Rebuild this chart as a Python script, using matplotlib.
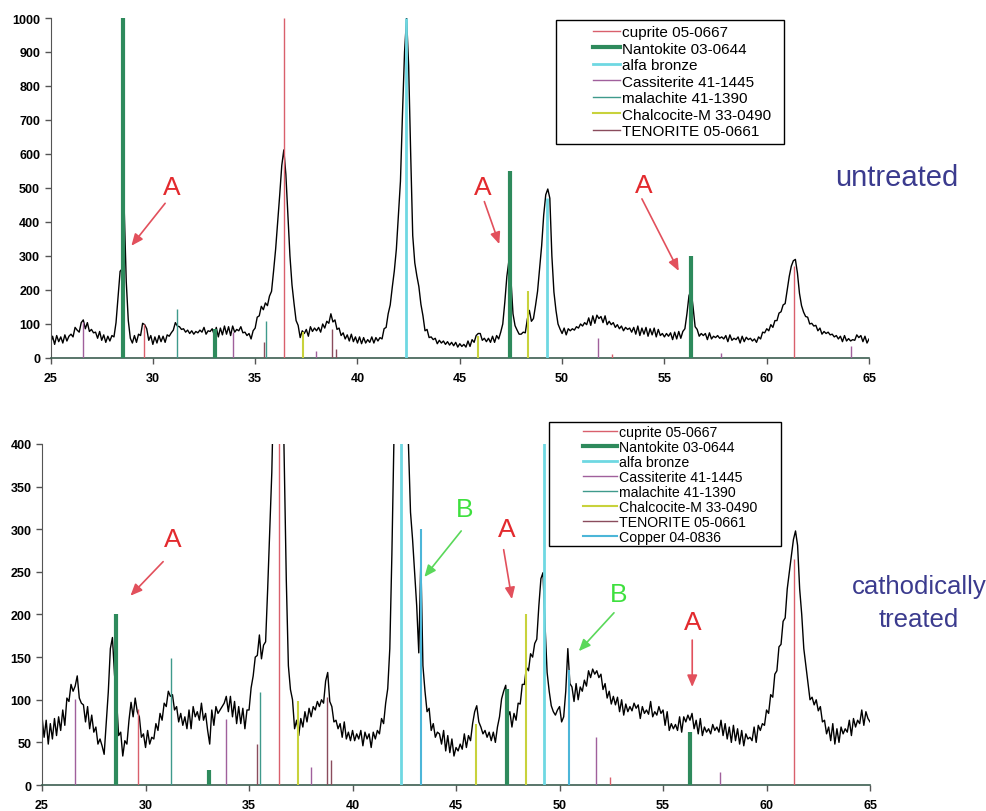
import numpy as np
import matplotlib.pyplot as plt
from matplotlib.lines import Line2D
from matplotlib.patches import Rectangle

plt.rcParams['font.family'] = ['Liberation Sans', 'DejaVu Sans']

# 2-theta grid, 0.1 deg steps from 25 to 65
two_theta = np.linspace(25, 65, 401)

untreated = [
    42, 64, 40, 66, 48, 62, 44, 68, 50, 64,
    70, 62, 90, 82, 76, 104, 112, 86, 104, 78,
    84, 74, 76, 58, 78, 52, 68, 46, 64, 50,
    66, 62, 104, 180, 255, 262, 438, 225, 110, 58,
    44, 66, 46, 70, 66, 102, 98, 86, 52, 66,
    40, 62, 44, 66, 48, 64, 46, 68, 64, 74,
    82, 104, 94, 92, 84, 86, 76, 82, 72, 80,
    70, 78, 74, 82, 76, 90, 70, 80, 78, 86,
    68, 90, 62, 88, 68, 94, 70, 92, 66, 94,
    76, 84, 80, 92, 74, 76, 66, 72, 56, 80,
    88, 120, 124, 152, 142, 162, 154, 182, 196, 256,
    320, 400, 480, 566, 612, 540, 420, 300, 215, 160,
    110, 96, 60, 80, 72, 84, 64, 92, 78, 88,
    80, 90, 76, 100, 88, 108, 102, 130, 106, 112,
    84, 88, 66, 74, 56, 68, 50, 70, 48, 62,
    44, 62, 42, 60, 44, 54, 46, 62, 44, 60,
    50, 60, 56, 86, 90, 130, 156, 208, 256, 320,
    420, 520, 720, 900, 1000, 860, 600, 360, 280, 242,
    210, 158, 124, 80, 84, 60, 62, 54, 58, 42,
    52, 44, 50, 40, 48, 38, 46, 36, 46, 32,
    42, 34, 40, 32, 50, 34, 54, 46, 66, 72,
    72, 52, 58, 48, 58, 46, 64, 46, 66, 56,
    76, 100, 164, 240, 286, 230, 130, 95, 82, 70,
    70, 76, 74, 114, 140, 108, 116, 154, 196, 264,
    330, 420, 480, 497, 470, 300, 194, 140, 100, 85,
    72, 88, 68, 86, 80, 86, 82, 92, 88, 100,
    94, 104, 98, 118, 96, 124, 102, 126, 116, 122,
    104, 124, 98, 108, 98, 104, 90, 98, 86, 94,
    80, 90, 84, 88, 76, 90, 70, 94, 66, 88,
    70, 90, 64, 86, 68, 88, 62, 84, 66, 72,
    62, 72, 64, 74, 54, 76, 56, 78, 58, 78,
    86, 130, 183, 200, 150, 92, 84, 64, 72, 66,
    72, 54, 74, 56, 64, 60, 66, 58, 62, 56,
    66, 48, 68, 52, 58, 54, 62, 44, 64, 48,
    61, 54, 58, 50, 56, 46, 62, 56, 76, 74,
    86, 80, 98, 90, 110, 110, 132, 136, 156, 160,
    200, 240, 270, 286, 290, 250, 190, 154, 135, 122,
    120, 100, 102, 94, 96, 80, 88, 70, 78, 72,
    76, 68, 70, 62, 66, 56, 64, 48, 66, 50,
    57, 50, 54, 52, 68, 60, 66, 48, 64, 44,
    56,
]

# measured counts, cathodically treated sample
treated = [
    80, 56, 76, 48, 72, 54, 78, 58, 80, 64,
    88, 70, 102, 98, 118, 110, 116, 128, 102, 96,
    94, 74, 92, 66, 82, 62, 68, 48, 54, 46,
    36, 72, 109, 160, 173, 130, 100, 58, 62, 34,
    52, 48, 76, 97, 80, 102, 86, 80, 56, 60,
    44, 64, 48, 56, 54, 72, 64, 84, 76, 96,
    92, 110, 104, 106, 88, 92, 74, 84, 70, 80,
    66, 88, 66, 92, 80, 86, 76, 96, 76, 84,
    64, 48, 88, 70, 92, 84, 88, 92, 96, 104,
    86, 104, 80, 98, 72, 92, 72, 90, 66, 88,
    88, 114, 128, 150, 152, 176, 148, 164, 168, 230,
    300, 367, 480, 620, 780, 700, 520, 380, 240, 140,
    112, 100, 66, 76, 58, 78, 68, 86, 74, 90,
    80, 92, 88, 98, 92, 100, 96, 122, 132, 98,
    92, 74, 76, 66, 72, 56, 74, 54, 62, 52,
    64, 52, 60, 54, 64, 46, 62, 54, 60, 44,
    62, 54, 64, 60, 78, 72, 96, 113, 160, 270,
    406, 600, 850, 1000, 980, 800, 560, 400, 320, 288,
    250, 210, 155, 265, 140, 110, 86, 90, 64, 72,
    56, 62, 60, 48, 64, 40, 58, 38, 54, 34,
    44, 40, 48, 42, 60, 44, 58, 52, 72, 86,
    93, 74, 68, 60, 64, 56, 62, 52, 62, 50,
    68, 80, 101, 110, 117, 80, 86, 68, 84, 76,
    96, 95, 118, 118, 138, 134, 154, 150, 166, 171,
    210, 242, 249, 187, 132, 110, 93, 86, 82, 88,
    92, 74, 80, 110, 160, 119, 115, 98, 119, 100,
    115, 110, 123, 116, 134, 126, 136, 130, 134, 126,
    130, 112, 119, 102, 110, 95, 104, 94, 103, 86,
    100, 82, 95, 86, 92, 87, 96, 90, 94, 78,
    92, 84, 88, 83, 98, 80, 86, 82, 92, 84,
    88, 70, 86, 64, 72, 66, 71, 64, 80, 62,
    80, 74, 82, 76, 84, 66, 76, 60, 78, 58,
    68, 62, 66, 60, 71, 64, 68, 62, 76, 58,
    72, 54, 68, 50, 70, 52, 66, 48, 64, 46,
    60, 54, 56, 52, 68, 50, 70, 64, 72, 70,
    88, 84, 106, 103, 130, 134, 162, 165, 192, 196,
    230, 250, 269, 288, 298, 281, 230, 200, 160, 140,
    119, 100, 103, 94, 100, 87, 92, 74, 76, 60,
    68, 52, 72, 48, 66, 50, 68, 60, 66, 62,
    76, 58, 78, 68, 76, 72, 88, 70, 86, 78,
    74,
]

phases = ['cuprite 05-0667', 'Nantokite 03-0644', 'alfa bronze',
          'Cassiterite 41-1445', 'malachite 41-1390', 'Chalcocite-M 33-0490',
          'TENORITE 05-0661', 'Copper 04-0836']
colors = ['#d9606c', '#2e8a5c', '#6fd8e2', '#a0609c', '#3f9a8c',
          '#c8d23c', '#8a4c5c', '#4cb6d8']
widths = [1.0, 3.0, 2.0, 1.0, 1.0, 1.5, 1.0, 1.5]

# reference stick patterns (position, height) per phase
top_pos = {
    'cuprite 05-0667': [29.55, 36.42, 52.45, 61.34],
    'Nantokite 03-0644': [28.53, 33.05, 47.43, 56.3],
    'alfa bronze': [42.35, 49.25],
    'Cassiterite 41-1445': [26.6, 33.9, 37.95, 51.75, 57.75, 64.1],
    'malachite 41-1390': [31.2, 35.55],
    'Chalcocite-M 33-0490': [37.35, 45.9, 48.35],
    'TENORITE 05-0661': [35.42, 38.75, 38.95],
}
top_hgt = {
    'cuprite 05-0667': [100, 1000, 12, 270],
    'Nantokite 03-0644': [1000, 85, 550, 300],
    'alfa bronze': [1000, 470],
    'Cassiterite 41-1445': [105, 75, 20, 58, 15, 35],
    'malachite 41-1390': [145, 110],
    'Chalcocite-M 33-0490': [75, 65, 197],
    'TENORITE 05-0661': [46, 85, 26],
}
bot_pos = {
    'cuprite 05-0667': [29.62, 36.46, 52.44, 61.33],
    'Nantokite 03-0644': [28.55, 33.07, 47.45, 56.3],
    'alfa bronze': [42.35, 49.25],
    'Cassiterite 41-1445': [26.6, 33.9, 37.98, 51.77, 57.75],
    'malachite 41-1390': [31.24, 35.55],
    'Chalcocite-M 33-0490': [37.38, 45.97, 48.38],
    'TENORITE 05-0661': [35.4, 38.75, 38.95],
    'Copper 04-0836': [43.3, 50.45],
}
bot_hgt = {
    'cuprite 05-0667': [89, 1000, 9, 265],
    'Nantokite 03-0644': [200, 18, 113, 62],
    'alfa bronze': [1000, 1000],
    'Cassiterite 41-1445': [101, 77, 21, 56, 15],
    'malachite 41-1390': [149, 109],
    'Chalcocite-M 33-0490': [98, 72, 200],
    'TENORITE 05-0661': [48, 103, 29],
    'Copper 04-0836': [300, 135],
}

# annotation letters: (text x, text y, arrow start x, y, arrow tip x, y)
top_marks = [('A', 30.9, 503, 30.6, 455, 28.95, 330),
             ('A', 46.1, 503, 46.2, 460, 46.93, 335),
             ('A', 54.0, 509, 53.9, 468, 55.7, 256)]
bot_marks = [('A', 31.3, 289, 30.85, 262, 29.27, 222),
             ('B', 45.4, 324, 45.25, 298, 43.47, 244),
             ('A', 47.44, 300, 47.3, 276, 47.7, 218),
             ('B', 52.87, 224, 52.63, 202, 50.93, 157),
             ('A', 56.45, 191, 56.41, 170, 56.41, 115)]
mark_colors = {'A': '#e32a2e', 'B': '#3ee03e'}
arrow_colors = {'A': '#e2505c', 'B': '#5ad85a'}

fig = plt.figure(figsize=(9.87, 8.12), dpi=100)
ax1 = fig.add_axes([0.0512, 0.5579, 0.8293, 0.4187])
ax2 = fig.add_axes([0.0426, 0.0320, 0.8389, 0.4200])


def draw_panel(ax, counts, pos, hgt, ymax, ystep, marks, n_phases):
    ax.plot(two_theta, counts, color='black', lw=1.0, zorder=2)
    order = [6, 3, 5, 4, 0, 7, 2, 1]
    for i in order:
        name = phases[i]
        if name in pos:
            ax.vlines(pos[name], 0, hgt[name], colors=colors[i],
                      lw=widths[i], zorder=3)
    ax.set_xlim(25, 65)
    ax.set_ylim(0, ymax)
    ax.set_xticks(range(25, 66, 5))
    ax.set_yticks(np.arange(0, ymax + 1, ystep))
    for s in ['top', 'right']:
        ax.spines[s].set_visible(False)
    ax.spines['left'].set_color('#555555')
    ax.spines['bottom'].set_color('#3c5e50')
    ax.spines['bottom'].set_linewidth(1.2)
    ax.tick_params(direction='out', length=4, width=1, colors='#555555',
                   labelsize=9, labelcolor='black')
    ax.tick_params(axis='x', pad=6)
    for lab in ax.get_xticklabels() + ax.get_yticklabels():
        lab.set_fontweight('bold')
    for letter, tx, ty, sx, sy, hx, hy in marks:
        ax.text(tx, ty, letter, color=mark_colors[letter], fontsize=19,
                ha='center', va='center', zorder=5)
        ax.annotate('', xy=(hx, hy), xytext=(sx, sy),
                    arrowprops=dict(arrowstyle='-|>,head_length=0.7,head_width=0.3',
                                    color=arrow_colors[letter], lw=1.2,
                                    mutation_scale=10, shrinkA=0, shrinkB=0),
                    zorder=5)
    handles = [Line2D([], [], color=colors[i], lw=widths[i]) for i in range(n_phases)]
    return handles


h1 = draw_panel(ax1, untreated, top_pos, top_hgt, 1000, 100, top_marks, 7)
h2 = draw_panel(ax2, treated, bot_pos, bot_hgt, 400, 50, bot_marks, 8)

# legend boxes drawn separately (the original frames are wider than the entries)
for x0, y0, w, h in [(0.5633, 0.8214, 0.2310, 0.1527),
                     (0.5562, 0.3264, 0.2350, 0.1527)]:
    fig.add_artist(Rectangle((x0, y0), w, h, transform=fig.transFigure,
                             facecolor='white', edgecolor='black', lw=1.0, zorder=1))

leg_kw = dict(loc='upper left', frameon=False, handletextpad=0.12,
              borderpad=0, borderaxespad=0)
leg1 = fig.legend(h1, phases[:7], bbox_to_anchor=(0.6008, 0.9675), fontsize=11,
                  handlelength=1.8, labelspacing=0.16, **leg_kw)
leg2 = fig.legend(h2, phases, bbox_to_anchor=(0.5907, 0.4755), fontsize=10.2,
                  handlelength=2.4, labelspacing=0.07, **leg_kw)
leg1.set_zorder(2)
leg2.set_zorder(2)

fig.text(0.9088, 0.781, 'untreated', color='#3b3b8e', fontsize=21,
         ha='center', va='center')
fig.text(0.931, 0.2568, 'cathodically\ntreated', color='#3b3b8e', fontsize=18.5,
         ha='center', va='center', linespacing=1.44)

fig.savefig('out.png', dpi=100)
